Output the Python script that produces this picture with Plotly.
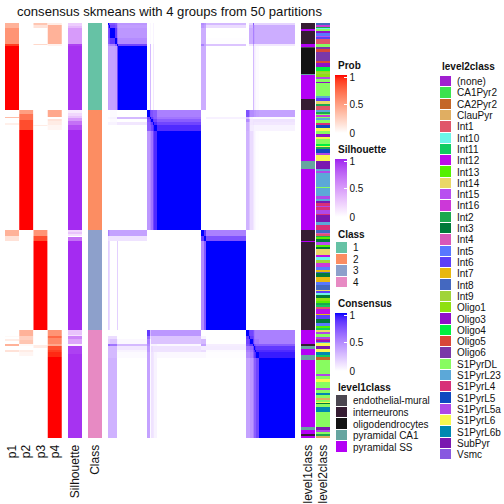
import numpy as np
import plotly.graph_objects as go

TITLE = "consensus skmeans with 4 groups from 50 partitions"
FONT = "Liberation Sans, Arial, sans-serif"
ROW_START = 23
ROW_END = 438

# (last row, value) runs, from the top of the chart to the bottom
p1 = [(28,.4),(44,.55),(46,.9),(110,1),(117,0),(118,.35),(123,0),(125,.08),(230,0),(236,.4),(241,.15),
      (336,0),(337,.03),(339,0),(341,.1),(344,0),(346,.4),(350,0),(352,.15),(438,0)]
p2 = [(110,0),(114,.5),(120,.7),(130,.85),(230,1),(330,0),(336,.4),(340,.25),(344,.3),(346,.03),(350,0),
      (352,.1),(356,.05),(438,0)]
p3 = [(25,.3),(28,.15),(44,0),(45,.2),(125,0),(126,.1),(230,0),(236,.55),(241,.85),(330,1),(345,0),(348,.1),(438,0)]
p4 = [(25,.1),(44,.4),(46,.07),(110,0),(117,.45),(119,0),(121,.15),(125,.1),(130,.05),(330,0),(336,.55),
      (338,.75),(344,.6),(346,.45),(350,.85),(352,.9),(357,.95),(438,1)]
silhouette = [(26,.25),(28,.35),(44,.5),(46,.9),(110,.95),(113,.1),(116,.2),(118,.3),(121,.5),(125,.7),(130,.85),
              (230,.97),(232,.2),(234,.3),(236,.15),(237,0),(241,.7),(330,.97),(335,.3),(336,.15),(339,.6),
              (344,.45),(346,.08),(354,.9),(438,.95)]
class_runs = [(110,0),(230,1),(330,2),(438,3)]

level1_names = ["endothelial-mural","interneurons","oligodendrocytes","pyramidal CA1","pyramidal SS"]
level1_colors = ["#4B4650","#351C32","#131313","#66A5A0","#B400F5"]
level1_runs = [(29,"interneurons"),(31,"pyramidal SS"),(44,"interneurons"),(47,"pyramidal SS"),(48,"endothelial-mural"),
               (74,"oligodendrocytes"),(75,"pyramidal CA1"),(99,"pyramidal SS"),(110,"interneurons"),(161,"pyramidal SS"),
               (169,"pyramidal CA1"),(230,"pyramidal SS"),(241,"interneurons"),(242,"pyramidal SS"),(330,"interneurons"),
               (344,"pyramidal SS"),(346,"interneurons"),(349,"pyramidal CA1"),(355,"pyramidal SS"),(360,"pyramidal CA1"),
               (427,"pyramidal SS"),(430,"pyramidal CA1"),(434,"pyramidal SS"),(436,"interneurons"),(438,"pyramidal SS")]

level2_names = ["(none)","CA1Pyr2","CA2Pyr2","ClauPyr","Int1","Int10","Int11","Int12","Int13","Int14","Int15","Int16",
                "Int2","Int3","Int4","Int5","Int6","Int7","Int8","Int9","Oligo1","Oligo3","Oligo4","Oligo5","Oligo6",
                "S1PyrDL","S1PyrL23","S1PyrL4","S1PyrL5","S1PyrL5a","S1PyrL6","S1PyrL6b","SubPyr","Vsmc"]
level2_colors = ["#A020D0","#3BE34E","#C46628","#E0AE62","#E0566A","#6CF5E8","#10CC60","#BC0CE8","#55F000","#EAD868",
                 "#B84EF0","#CC38D8","#1CA850","#007A3A","#D858B8","#5878FF","#5C40F8","#E8B810","#4468C0","#A0D438",
                 "#8FE010","#9010C8","#00F040","#D84838","#7A38A8","#88FC60","#5CA8D8","#D83078","#1048C0","#B048E8",
                 "#F8F850","#0088B0","#7A18B0","#8858E0"]
level2_runs = [(25,"Int8"),(26.5,"Int16"),(28,"Int2"),(29,"Int10"),(30.5,"S1PyrDL"),(33,"Oligo3"),(36,"Int5"),(37,"Int15"),
               (39,"Int6"),(44,"Int1"),(47,"S1PyrDL"),(49,"Oligo6"),(52,"Oligo5"),(61,"Oligo6"),(63,"Oligo5"),(67,"Oligo3"),
               (71,"Oligo4"),(72,"Oligo1"),(74,"Int9"),(77,"Oligo1"),(79,"S1PyrL5a"),(82,"S1PyrDL"),(83,"Oligo3"),(96,"S1PyrDL"),
               (98,"S1PyrL23"),(101,"Int6"),(104,"Int14"),(106,"Int2"),(110,"Int1"),
               (112,"S1PyrL23"),(114,"Int2"),(115,"S1PyrDL"),(117,"Int16"),(118,"S1PyrDL"),(120,"S1PyrL23"),(123,"S1PyrDL"),
               (125,"S1PyrL4"),(128,"S1PyrL5"),(131,"S1PyrL6"),(134,"S1PyrDL"),(137,"Oligo3"),(139,"S1PyrL6"),(144,"S1PyrDL"),
               (146,"Oligo4"),(147,"S1PyrL6"),(149,"Int2"),(153,"S1PyrL5"),(155,"S1PyrL5a"),(161,"S1PyrL6"),(169,"SubPyr"),
               (171,"S1PyrL23"),(173,"S1PyrL5a"),(187,"S1PyrL23"),(188,"S1PyrDL"),(196,"S1PyrL23"),(199,"S1PyrL5a"),
               (201,"S1PyrL23"),(203,"SubPyr"),(206,"S1PyrL4"),(207,"S1PyrL5a"),(210,"S1PyrL4"),(214,"S1PyrL5a"),(215,"S1PyrL4"),
               (222,"SubPyr"),(225,"S1PyrL23"),(230,"S1PyrL4"),
               (233,"Int8"),(234,"Int4"),(236,"Int1"),(237,"Int2"),(239,"Int13"),(242,"Int3"),(245,"Int15"),(247,"Int13"),
               (249,"Int3"),(255,"Int14"),(257,"Int12"),(260,"Int10"),(263,"Int9"),(267,"Int16"),(270,"Int5"),(272,"Int7"),
               (273,"Int8"),(277,"Int3"),(282,"Int7"),(285,"Int5"),(290,"Int8"),(291,"Int14"),(293,"Int6"),(295,"Int10"),
               (298,"Int3"),(301,"Oligo1"),(303,"Int13"),(305,"Int2"),(307,"Int11"),(309,"Int1"),(314,"Int12"),(315,"Int7"),
               (319,"Int6"),(323,"Int3"),(326,"Int5"),(328,"Int13"),(330,"Int11"),
               (332,"Int14"),(334,"S1PyrL5a"),(337,"S1PyrDL"),(339,"S1PyrL5a"),(340,"S1PyrL4"),(342,"Oligo3"),(343,"S1PyrL23"),
               (346,"S1PyrL6"),(349,"SubPyr"),(352,"S1PyrL6"),(355,"S1PyrL6b"),(357,"Int11"),(360,"CA2Pyr2"),(374,"S1PyrDL"),
               (376,"S1PyrL5a"),(379,"S1PyrDL"),(382,"S1PyrL6"),(388,"S1PyrDL"),(390,"S1PyrL5a"),(393,"S1PyrDL"),(395,"S1PyrL6b"),
               (398,"S1PyrDL"),(400,"ClauPyr"),(402,"S1PyrDL"),(403,"S1PyrL6"),(404,"Int3"),(407,"S1PyrDL"),(412,"S1PyrL6b"),
               (427,"S1PyrDL"),(430,"SubPyr"),(432,"S1PyrL5a"),(434,"S1PyrDL"),(436,"Int2"),(438,"ClauPyr")]

consensus_edges = [23,25,28,38,44,46,110,117,119,122,125,131,230,236,241,330,336,339,344,346,350,352,358,438]
consensus_values = [
 [1,.8,.75,.7,.5,.45, 0,.03,0,.05,0,0, .5,.45,.3, 0,.18,.18,.7,.18,.18,.18,.18],
 [.8,1,.8,.75,.5,.42, 0,.03,0,.05,0,0, .45,.4,.15, 0,.3,.3,.6,.4,.35,.35,.35],
 [.75,.8,1,.85,.55,.45, 0,.03,0,.05,0,0, .35,.35,0, 0,.35,.35,.55,.4,.35,.35,.35],
 [.7,.75,.85,1,.7,.5, 0,.03,0,.05,0,0, .35,.35,.01, 0,.35,.35,.55,.4,.35,.35,.35],
 [.5,.5,.55,.7,1,.8, 0,.3,0,.1,0,0, .55,.4,.25, 0,.1,.1,.4,.1,.1,.1,.1],
 [.42,.4,.4,.42,.8,1, 0,.3,0,.1,0,0, .35,.35,0, 0,0,0,.3,.08,.05,.02,0],
 [0,0,.02,.02,0,0, 1,.8,.75,.7,.7,.55, 0,0,0, .75,.6,.5,.5,.45,.45,.42,.4],
 [.03,.03,.05,.05,.3,.3, .8,1,.85,.75,.7,.6, 0,0,.06, .3,.15,.05,.02,.02,.02,.02,.02],
 [0,0,.02,.02,0,0, .75,.85,1,.85,.8,.7, 0,0,0, .5,.35,.1,.12,.12,.12,.12,.12],
 [.05,.05,.05,.05,.1,.1, .7,.75,.85,1,.9,.8, 0,0,0, .35,.25,.1,.12,.1,.1,.1,.1],
 [0,0,0,0,0,0, .7,.7,.8,.9,1,.9, 0,0,0, .35,.25,.08,.08,.05,.05,.05,.05],
 [0,0,0,0,0,0, .45,.5,.6,.8,.9,1, 0,0,0, .33,.25,.15,.1,.05,.03,.01,0],
 [.55,.45,.4,.4,.4,.4, 0,0,0,0,0,0, 1,.85,.55, 0,0,0,0,0,0,0,0],
 [.15,.12,.12,.12,.12,.12, 0,0,0,0,0,0, .85,1,.75, 0,0,0,0,0,0,0,0],
 [.2,.15,0,0,.2,0, 0,0,0,0,0,0, .5,.72,1, 0,0,0,0,0,0,0,0],
 [0,0,0,0,0,0, .85,.3,.45,.45,.45,.45, 0,0,0, 1,.85,.8,.75,.6,.55,.55,.55],
 [.15,.15,.15,.15,0,0, .65,.15,.25,.25,.25,.25, .05,.05,0, .85,1,.85,.8,.6,.55,.55,.55],
 [.2,.2,.25,.25,.05,.03, .55,.05,.25,.25,.25,.25, .3,.3,0, .8,.85,1,.85,.65,.6,.6,.55],
 [.65,.65,.6,.6,.3,.3, .5,.02,.05,.05,.05,.03, .4,.4,.07, .75,.8,.85,1,.8,.75,.7,.7],
 [.3,.3,.3,.3,.1,.1, .45,.02,.15,.12,.12,.12, .08,.08,.08, .6,.6,.65,.8,1,.9,.85,.85],
 [.3,.3,.3,.3,.05,.05, .45,.02,.15,.12,.12,.12, .15,.15,.02, .55,.55,.6,.75,.9,1,.9,.9],
 [.3,.3,.3,.3,.02,.02, .4,.02,.12,.1,.05,.03, .03,.03,.01, .5,.5,.55,.7,.85,.9,1,.95],
 [.33,.33,.33,.33,0,0, .4,.02,.12,.1,.05,0, 0,0,0, .4,.4,.45,.55,.7,.7,.8,1],
]

class_names = ["1","2","3","4"]
class_colors = ["#66C2A5","#FC8D62","#8DA0CB","#E78AC3"]
track_names = ["p1","p2","p3","p4"]


def lab_ramp(rgb_hex, steps=21):
    """White-to-colour ramp interpolated in CIE Lab, like the heatmap's own colour mapping."""
    def to_lab(c):
        c = np.array(c, float) / 255
        lin = np.where(c > .04045, ((c + .055) / 1.055) ** 2.4, c / 12.92)
        m = np.array([[.4124, .3576, .1805], [.2126, .7152, .0722], [.0193, .1192, .9505]])
        xyz = m @ lin / np.array([.9505, 1, 1.089])
        f = np.where(xyz > .008856, np.cbrt(xyz), 7.787 * xyz + 16 / 116)
        return np.array([116 * f[1] - 16, 500 * (f[0] - f[1]), 200 * (f[1] - f[2])])

    def to_rgb(lab):
        fy = (lab[0] + 16) / 116
        f = np.array([fy + lab[1] / 500, fy, fy - lab[2] / 200])
        xyz = np.where(f > .2069, f ** 3, (f - 16 / 116) / 7.787) * np.array([.9505, 1, 1.089])
        m = np.array([[3.2406, -1.5372, -.4986], [-.9689, 1.8758, .0415], [.0557, -.204, 1.057]])
        lin = np.clip(m @ xyz, 0, 1)
        c = np.where(lin > .0031308, 1.055 * lin ** (1 / 2.4) - .055, 12.92 * lin)
        return "rgb(%d,%d,%d)" % tuple(np.round(c * 255))

    rgb = [int(rgb_hex[i:i + 2], 16) for i in (1, 3, 5)]
    a, b = to_lab([255, 255, 255]), to_lab(rgb)
    return [[t, to_rgb(a + (b - a) * t)] for t in np.linspace(0, 1, steps)]


def discrete_scale(colors):
    n = len(colors)
    scale = []
    for i, c in enumerate(colors):
        scale += [[i / n, c], [(i + 1) / n, c]]
    return scale


def unpack(runs):
    ends = [r[0] for r in runs]
    return [ROW_START] + ends, [r[1] for r in runs]


PROB = lab_ramp("#FF0000")
SIL = lab_ramp("#A020F0")
CONS = lab_ramp("#0000FF")

fig = go.Figure()
W = H = 504
layout = {}
axis_id = 0


def px_x(a, b):
    return [a / W, b / W]


def px_y(a, b):
    return [1 - b / H, 1 - a / H]


def add_axes(xdom, ydom, xrange, yrange, xkw=None, ykw=None):
    global axis_id
    axis_id += 1
    s = "" if axis_id == 1 else str(axis_id)
    x = dict(domain=px_x(*xdom), range=xrange, anchor="y" + s, showgrid=False, zeroline=False,
             showticklabels=False, ticks="", fixedrange=True)
    y = dict(domain=px_y(*ydom), range=yrange, anchor="x" + s, showgrid=False, zeroline=False,
             showticklabels=False, ticks="", fixedrange=True)
    x.update(xkw or {})
    y.update(ykw or {})
    layout["xaxis" + s] = x
    layout["yaxis" + s] = y
    return "x" + s, "y" + s


def bottom_labels(vals, names):
    return dict(showticklabels=True, tickmode="array", tickvals=vals, ticktext=names, tickangle=-90,
                ticks="outside", ticklen=1, tickcolor="rgba(0,0,0,0)", tickfont=dict(size=12, family=FONT, color="#111"))


def colorbar(top, bottom):
    return dict(x=335 / W, xanchor="left", y=1 - top / H, yanchor="top", len=bottom - top, lenmode="pixels",
                thickness=12, thicknessmode="pixels", xpad=0, ypad=0, outlinewidth=0, ticks="inside", ticklen=3,
                tickcolor="white", tickwidth=1, tickmode="array", tickvals=[0, .483, .965], ticktext=["0", "0.5", "1"],
                tickfont=dict(size=10, family=FONT, color="#111"))


def strip(xa, ya, x_edges, runs, scale, zmin=0, zmax=1, cbar=None):
    edges, vals = unpack(runs)
    fig.add_trace(go.Heatmap(x=x_edges, y=edges, z=[[v] for v in vals], colorscale=scale, zmin=zmin, zmax=zmax,
                             xaxis=xa, yaxis=ya, showscale=cbar is not None, colorbar=cbar, hoverinfo="skip"))


ROWS = (ROW_START, ROW_END)
YR = [ROW_END, ROW_START]

# p1..p4
xa, ya = add_axes((5, 62), ROWS, [0, 4], YR, bottom_labels([.5, 1.5, 2.5, 3.5], track_names))
for i, run in enumerate([p1, p2, p3, p4]):
    strip(xa, ya, [i, i + 1], run, PROB, cbar=colorbar(75, 133) if i == 0 else None)

# Silhouette
xa, ya = add_axes((68, 82), ROWS, [0, 1], YR, bottom_labels([.5], ["Silhouette"]))
strip(xa, ya, [0, 1], silhouette, SIL, cbar=colorbar(159, 217))

# Class
xa, ya = add_axes((88, 102), ROWS, [0, 1], YR, bottom_labels([.5], ["Class"]))
strip(xa, ya, [0, 1], class_runs, discrete_scale(class_colors), -.5, 3.5)

# Consensus matrix
xa, ya = add_axes((108, 295), ROWS, [ROW_START, ROW_END], YR)
fig.add_trace(go.Heatmap(x=consensus_edges, y=consensus_edges, z=consensus_values, colorscale=CONS, zmin=0, zmax=1,
                         xaxis=xa, yaxis=ya, colorbar=colorbar(313, 371), hoverinfo="skip"))

# level1class
xa, ya = add_axes((301, 315), ROWS, [0, 1], YR, bottom_labels([.5], ["level1class"]))
strip(xa, ya, [0, 1], [(e, level1_names.index(n)) for e, n in level1_runs], discrete_scale(level1_colors),
      -.5, len(level1_names) - .5)

# level2class
xa, ya = add_axes((316, 330), ROWS, [0, 1], YR, bottom_labels([.5], ["level2class"]))
strip(xa, ya, [0, 1], [(e, level2_names.index(n)) for e, n in level2_runs], discrete_scale(level2_colors),
      -.5, len(level2_names) - .5)


def swatch_legend(xdom, ydom, names, colors):
    n = len(names)
    ykw = dict(showticklabels=True, side="right", tickmode="array", tickvals=list(range(n)), ticktext=names,
               ticks="outside", ticklen=3, tickcolor="rgba(0,0,0,0)", tickfont=dict(size=10, family=FONT, color="#111"))
    xa, ya = add_axes(xdom, ydom, [-.5, .5], [n - .5, -.5], ykw=ykw)
    fig.add_trace(go.Heatmap(z=[[i] for i in range(n)], colorscale=discrete_scale(colors), zmin=-.5, zmax=n - .5,
                             xaxis=xa, yaxis=ya, showscale=False, ygap=1, hoverinfo="skip"))


swatch_legend((336, 347), (242, 288), class_names, class_colors)
swatch_legend((336, 347), (395, 453), level1_names, level1_colors)
swatch_legend((440, 451), (76, 460.3), level2_names, level2_colors)


def heading(text, x, y, size=10, bold=True):
    t = "<b>%s</b>" % text if bold else text
    return dict(text=t, x=x / W, y=1 - y / H, xref="paper", yref="paper", xanchor="left", yanchor="middle",
                showarrow=False, font=dict(size=size, family=FONT, color="#111"))


annotations = [heading(TITLE, 15, 11, 13.1, False), heading("Prob", 336, 66), heading("Silhouette", 336, 149),
               heading("Class", 336, 234), heading("Consensus", 336, 303), heading("level1class", 336, 387),
               heading("level2class", 440, 67)]

fig.update_layout(width=W, height=H, margin=dict(l=0, r=0, t=0, b=0), paper_bgcolor="white", plot_bgcolor="white",
                  showlegend=False, annotations=annotations, **layout)
fig.write_html("out.html", config={"displayModeBar": False, "responsive": False},
               post_script="document.body.style.margin='0';document.body.style.overflow='hidden';")
